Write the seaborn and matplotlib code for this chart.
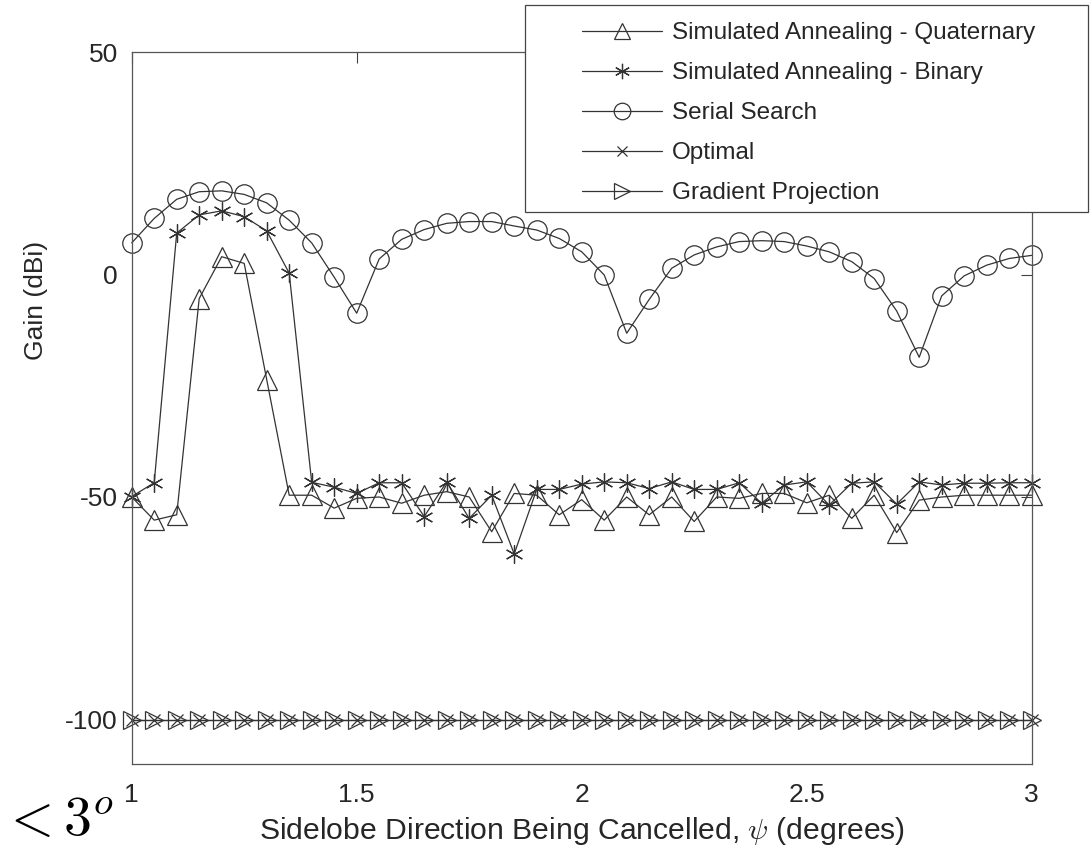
import numpy as np
import pandas as pd
import matplotlib
matplotlib.use("Agg")
import matplotlib.pyplot as plt
from matplotlib.patches import Rectangle
import seaborn as sns

# ---- data ----
psi = [round(1.0 + 0.05 * i, 2) for i in range(41)]

sa_quaternary = [-50.0, -55.2, -54.0, -5.4, 4.0, 2.5, -23.6, -49.6, -49.6, -52.5,
                 -50.3, -50.0, -51.4, -49.6, -48.8, -50.0, -57.8, -49.2, -49.6, -54.0,
                 -50.6, -55.2, -50.0, -54.0, -50.0, -55.5, -50.0, -50.3, -49.2, -49.2,
                 -51.3, -49.6, -54.8, -49.6, -58.0, -50.7, -50.0, -49.6, -49.6, -49.6,
                 -49.6]
sa_binary = [-49.9, -46.8, 9.3, 13.4, 14.3, 13.0, 9.8, 0.3, -46.7, -47.8,
             -49.2, -46.8, -46.8, -54.4, -46.6, -54.8, -49.6, -62.8, -48.3, -48.3,
             -47.1, -46.6, -46.8, -48.1, -46.6, -48.3, -48.3, -46.8, -51.4, -47.3,
             -46.6, -51.8, -46.9, -46.6, -51.6, -46.6, -47.3, -46.9, -46.9, -46.8,
             -46.8]
serial_search = [7.1, 12.6, 16.9, 18.6, 18.8, 18.0, 16.1, 12.2, 7.1, -0.6,
                 -8.7, 3.5, 7.9, 10.1, 11.5, 11.9, 11.9, 10.9, 10.0, 8.1,
                 5.1, -0.1, -13.2, -5.6, 1.4, 4.4, 6.2, 7.4, 7.6, 7.4,
                 6.4, 5.1, 2.9, -0.9, -8.2, -18.6, -4.8, -0.3, 2.1, 3.6,
                 4.3]
optimal = [-100.0] * 41
gradient_projection = [-100.0] * 41

series_names = ["Simulated Annealing - Quaternary", "Simulated Annealing - Binary",
                "Serial Search", "Optimal", "Gradient Projection"]
x_ticks = [1, 1.5, 2, 2.5, 3]
y_ticks = [-100, -50, 0, 50]

# ---- style ----
sns.set_theme(style="white")
plt.rcParams["font.family"] = ["Liberation Sans", "DejaVu Sans"]
plt.rcParams["mathtext.fontset"] = "cm"

W, H = 1091, 850
fig = plt.figure(figsize=(W / 100, H / 100), dpi=100)
ax = fig.add_axes([131.7 / W, 1 - 764 / H, 900 / W, 712 / H])

line_col = "#333333"
styles = [
    dict(marker="^", markersize=14, markerfacecolor="none"),
    dict(marker=(6, 2, 0), markersize=13),
    dict(marker="o", markersize=14, markerfacecolor="none"),
    dict(marker="x", markersize=9),
    dict(marker=">", markersize=13, markerfacecolor="none"),
]
data_list = [sa_quaternary, sa_binary, serial_search, optimal, gradient_projection]

for name, vals, st in zip(series_names, data_list, styles):
    df = pd.DataFrame({"psi": psi, "gain": vals})
    sns.lineplot(data=df, x="psi", y="gain", ax=ax, color=line_col,
                 linewidth=0.9, markeredgecolor=line_col, markeredgewidth=0.9,
                 label=name, clip_on=False, **st)

ax.set_xlim(1, 3)
ax.set_ylim(-110, 50)
ax.set_xticks(x_ticks)
ax.set_xticklabels([str(t) for t in x_ticks])
ax.set_yticks(y_ticks)
ax.set_yticklabels([str(t) for t in y_ticks])
ax.tick_params(direction="in", length=8, width=0.8, colors="#404040",
               labelcolor="#262626", labelsize=19, top=True, right=True)
ax.tick_params(axis="x", pad=14)
ax.tick_params(axis="y", pad=10)
for sp in ax.spines.values():
    sp.set_color("#555555")
    sp.set_linewidth(0.9)

ax.set_xlabel(r"Sidelobe Direction Being Cancelled, $\psi$ (degrees)",
              fontsize=21.7, color="#262626")
ax.xaxis.set_label_coords(0.5, -(831 - 764) / 712)
ax.xaxis.label.set_va("center")
ax.set_ylabel("Gain (dBi)", fontsize=19, color="#262626")
ax.yaxis.set_label_coords((36 - 131.7) / 900, (764 - 300) / 712)
ax.yaxis.label.set_va("center")

leg = ax.legend(loc="upper left", bbox_to_anchor=(582 / W, 1 - 22 / H),
                bbox_transform=fig.transFigure, fontsize=17.5,
                frameon=False, handlelength=3.3, labelspacing=0.74,
                borderpad=0, handletextpad=0.4, borderaxespad=0)
for h in leg.legend_handles:
    h.set_markersize(h.get_markersize() * 0.85)
leg.set_zorder(10)

# legend frame (drawn in figure pixels)
frame = Rectangle((525 / W, 1 - 212 / H), (1088 - 525) / W, (212 - 5) / H,
                  transform=fig.transFigure, facecolor="white",
                  edgecolor="#444444", linewidth=0.9, zorder=9)
fig.add_artist(frame)
fig.add_artist(leg)

fig.text(0.001, 0.002, r"$<3^o$", fontsize=40, color="black",
         ha="left", va="bottom")

fig.savefig("out.png", dpi=100)
